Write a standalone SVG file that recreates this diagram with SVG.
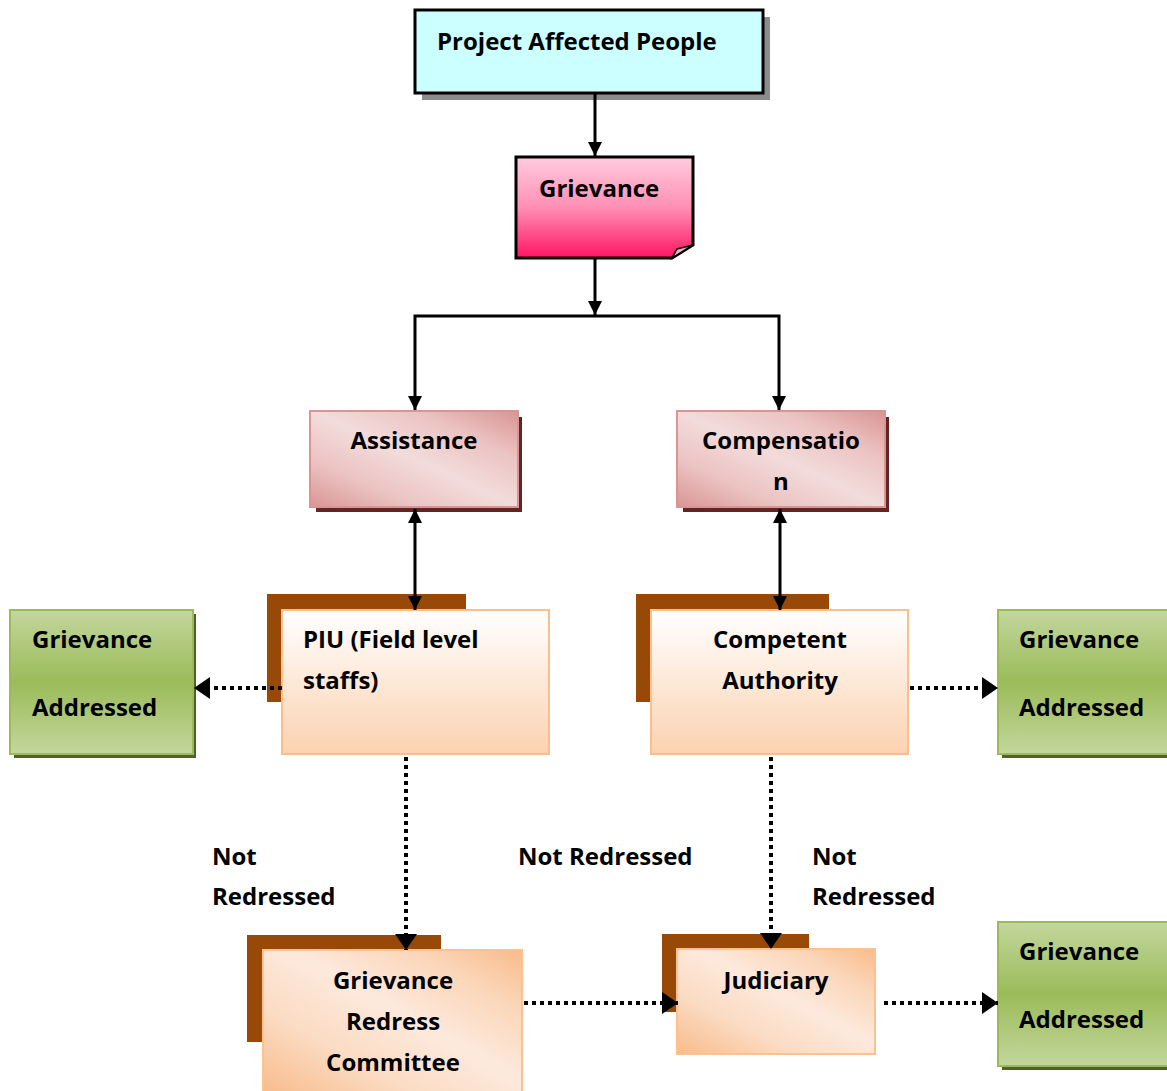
<svg xmlns="http://www.w3.org/2000/svg" width="1167" height="1091" viewBox="0 0 1167 1091">
<defs>
<linearGradient id="gPink" x1="0" y1="0" x2="0" y2="1">
<stop offset="0" stop-color="#ffccdf"/>
<stop offset="0.5" stop-color="#ff8fb4"/>
<stop offset="1" stop-color="#ff1463"/>
</linearGradient>
<linearGradient id="gRose" x1="0" y1="1" x2="1" y2="0">
<stop offset="0" stop-color="#d99594"/>
<stop offset="0.25" stop-color="#ebc3c2"/>
<stop offset="0.5" stop-color="#f2dcdb"/>
<stop offset="0.75" stop-color="#ebc3c2"/>
<stop offset="1" stop-color="#d99594"/>
</linearGradient>
<linearGradient id="gPeach" x1="0" y1="0" x2="0" y2="1">
<stop offset="0" stop-color="#ffffff"/>
<stop offset="1" stop-color="#fbd2b0"/>
</linearGradient>
<linearGradient id="gOrange" x1="0" y1="1" x2="1" y2="0">
<stop offset="0" stop-color="#f8bb8a"/>
<stop offset="0.3" stop-color="#fbdcc4"/>
<stop offset="0.55" stop-color="#fde9dc"/>
<stop offset="0.8" stop-color="#fbd5b7"/>
<stop offset="1" stop-color="#f8bb8a"/>
</linearGradient>
<linearGradient id="gGreen" x1="0" y1="0" x2="0" y2="1">
<stop offset="0" stop-color="#c3d79d"/>
<stop offset="0.5" stop-color="#9bbb59"/>
<stop offset="1" stop-color="#c3d79d"/>
</linearGradient>
<marker id="ah" viewBox="0 0 14 14" refX="14" refY="7" markerWidth="14" markerHeight="14" markerUnits="userSpaceOnUse" orient="auto-start-reverse">
<path d="M0,0 L14,7 L0,14 Z" fill="#000"/>
</marker>
<marker id="ahd" viewBox="0 0 16 22" refX="16" refY="11" markerWidth="16" markerHeight="22" markerUnits="userSpaceOnUse" orient="auto">
<path d="M0,0 L16,11 L0,22 Z" fill="#000"/>
</marker>
</defs>
<style>
text{font-family:"Open Sans","Liberation Sans",sans-serif;font-weight:bold;font-size:24px;fill:#000}
.solid{fill:none;stroke:#000;stroke-width:3}
.dot{fill:none;stroke:#000;stroke-width:4;stroke-dasharray:4 4}
.rose{fill:url(#gRose);stroke:#d99594;stroke-width:2}
.peach{fill:url(#gPeach);stroke:#fbbf8f;stroke-width:2}
.orange{fill:url(#gOrange);stroke:#fbc190;stroke-width:2}
.green{fill:url(#gGreen);stroke:#9bbb59;stroke-width:2}
.brown{fill:#984807}
.c{text-anchor:middle}
</style>

<g id="project-affected-people">
<rect x="422" y="17" width="348" height="83" fill="#8c8c8c"/>
<rect x="415" y="10" width="348" height="83" fill="#ccffff" stroke="#000" stroke-width="3"/>
<text x="437" y="50">Project Affected People</text>
</g>

<g id="grievance">
<path d="M516,157 H693 V245 L672,258 H516 Z" fill="url(#gPink)" stroke="#000" stroke-width="3" stroke-linejoin="miter"/>
<path d="M693,245 L677,249 L672,258 Z" fill="#e8b8c8" stroke="#000" stroke-width="1.5"/>
<text x="539" y="197">Grievance</text>
</g>

<g id="assistance">
<rect x="316" y="417" width="206" height="95" fill="#632523"/>
<rect x="310" y="411" width="208" height="96" class="rose"/>
<text x="414" y="449" class="c">Assistance</text>
</g>

<g id="compensation">
<rect x="683" y="417" width="206" height="95" fill="#632523"/>
<rect x="677" y="411" width="208" height="96" class="rose"/>
<text x="781" y="449" class="c">Compensatio</text>
<text x="781" y="490" class="c">n</text>
</g>

<g id="piu">
<rect x="267" y="594" width="199" height="108" class="brown"/>
<rect x="282" y="610" width="267" height="144" class="peach"/>
<text x="303" y="648">PIU (Field level</text>
<text x="303" y="689">staffs)</text>
</g>

<g id="competent-authority">
<rect x="636" y="594" width="193" height="108" class="brown"/>
<rect x="651" y="610" width="257" height="144" class="peach"/>
<text x="780" y="648" class="c">Competent</text>
<text x="780" y="689" class="c">Authority</text>
</g>

<g id="addressed-left">
<rect x="14" y="614" width="182" height="144" fill="#4f6228"/>
<rect x="10" y="610" width="183" height="144" class="green"/>
<text x="32" y="648">Grievance</text>
<text x="32" y="716">Addressed</text>
</g>

<g id="addressed-right">
<rect x="1002" y="614" width="170" height="144" fill="#4f6228"/>
<rect x="998" y="610" width="175" height="144" class="green"/>
<text x="1019" y="648">Grievance</text>
<text x="1019" y="716">Addressed</text>
</g>

<g id="grc">
<rect x="247" y="935" width="194" height="107" class="brown"/>
<rect x="263" y="950" width="259" height="145" class="orange"/>
<text x="393" y="989" class="c">Grievance</text>
<text x="393" y="1030" class="c">Redress</text>
<text x="393" y="1071" class="c">Committee</text>
</g>

<g id="judiciary">
<rect x="662" y="934" width="147" height="78" class="brown"/>
<rect x="677" y="949" width="198" height="105" class="orange"/>
<text x="776" y="989" class="c">Judiciary</text>
</g>

<g id="addressed-bottom">
<rect x="1002" y="926" width="170" height="144" fill="#4f6228"/>
<rect x="998" y="922" width="175" height="144" class="green"/>
<text x="1019" y="960">Grievance</text>
<text x="1019" y="1028">Addressed</text>
</g>

<g id="labels">
<text x="212" y="865">Not</text>
<text x="212" y="905">Redressed</text>
<text x="518" y="865">Not Redressed</text>
<text x="812" y="865">Not</text>
<text x="812" y="905">Redressed</text>
</g>

<g id="connectors">
<line class="solid" x1="595" y1="94" x2="595" y2="156" marker-end="url(#ah)"/>
<line class="solid" x1="595" y1="259" x2="595" y2="315" marker-end="url(#ah)"/>
<polyline class="solid" points="415,410 415,316 779,316 779,410" marker-start="url(#ah)" marker-end="url(#ah)"/>
<line class="solid" x1="415" y1="509" x2="415" y2="610" marker-start="url(#ah)" marker-end="url(#ah)"/>
<line class="solid" x1="780" y1="509" x2="780" y2="610" marker-start="url(#ah)" marker-end="url(#ah)"/>
<line class="dot" x1="282" y1="688" x2="194" y2="688" marker-end="url(#ahd)"/>
<line class="dot" x1="910" y1="688" x2="998" y2="688" marker-end="url(#ahd)"/>
<line class="dot" x1="406" y1="757" x2="406" y2="950" marker-end="url(#ahd)"/>
<line class="dot" x1="771" y1="757" x2="771" y2="949" marker-end="url(#ahd)"/>
<line class="dot" x1="524" y1="1003" x2="678" y2="1003" marker-end="url(#ahd)"/>
<line class="dot" x1="884" y1="1003" x2="998" y2="1003" marker-end="url(#ahd)"/>
</g>
</svg>
